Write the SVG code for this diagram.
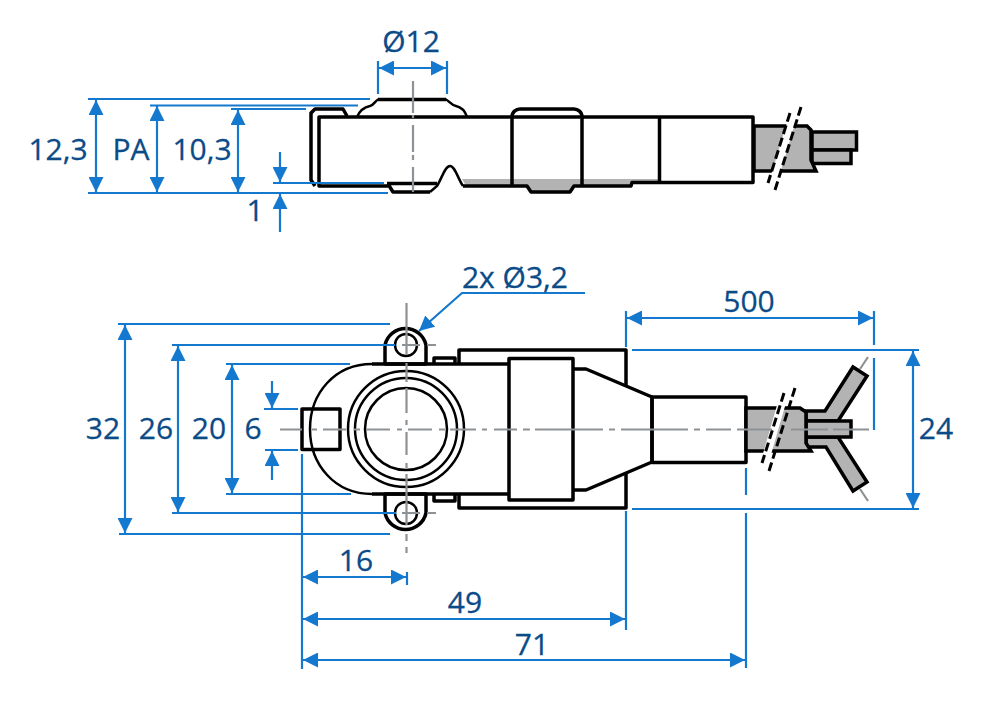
<svg xmlns="http://www.w3.org/2000/svg" width="1000" height="714" viewBox="0 0 1000 714">
<style>
.o{fill:none;stroke:#000;stroke-width:3.500;stroke-linejoin:round}
.f{fill:#fff;stroke:#000;stroke-width:3.500;stroke-linejoin:round}
.g{fill:#b3b3b3;stroke:#000;stroke-width:3.500;stroke-linejoin:miter}
.t{fill:#b3b3b3;stroke:none}
.th{fill:none;stroke:#000;stroke-width:2.500}
.c{fill:none;stroke:#8d9296;stroke-width:2.200}
.d{fill:none;stroke:#1478cf;stroke-width:2.200}
.a{marker-start:url(#ah);marker-end:url(#ah)}
.e{marker-end:url(#ah)}
text{font-family:"Open Sans","Noto Sans",sans-serif;font-size:30px;fill:#0a4b88;stroke:#0a4b88;stroke-width:0.300;text-anchor:middle}
</style>
<defs>
<marker id="ah" markerUnits="userSpaceOnUse" markerWidth="15" markerHeight="15" refX="14" refY="7" orient="auto-start-reverse" viewBox="0 0 14 14">
<path d="M0,0L14,7L0,14Z" fill="#1478cf"/>
</marker>
</defs>

<g id="side-view">
<path class="t" d="M462,179H660V183H632V186H574L570,192H531L527,186H466Z"/>
<path class="o" d="M347,116L343,109H315L311,113V180L315,186"/>
<path class="th" d="M357,117C360,110 365,107 370,106C374,105 375,101 378,99.500H446C449,101 451,105 456,106C461,107 465,111 467,117"/>
<path class="o" d="M378,99.500H446"/>
<path class="o" d="M388,186H319V117H753V182.500H632L631,186H574L570,192H531L527,186H463"/>
<path class="th" d="M463,186C458,179 455,166 450,166C445,166 442,178 437,186L430,192"/>
<path class="o" d="M387,183.500H437M430,192H393L388,184"/>
<path class="o" d="M512,186V117C512,112 516,109 520,109H574C578,109 582,112 582,117V186"/>
<path class="o" d="M659.500,117V182"/>
<path class="g" d="M812,132H856.500V150H812Z"/>
<path class="g" d="M812,150H851V163.500H812Z"/>
<path class="g" d="M754,126H807L811,130V160L816,171H754Z"/>
<path d="M795,110L772,186" stroke="#fff" stroke-width="8" fill="none"/>
<path d="M790,113L768,183M801,107L775,190" stroke="#000" stroke-width="3" stroke-dasharray="9 4" fill="none"/>
<path class="c" d="M413,81V113M413,115V118M413,125V152M413,155V160M413,167V192"/>
</g>

<g id="front-view">
<path class="o" d="M459,364V350H626V385M626,473V508H459V494"/>
<path class="f" d="M385,364V345A21,21 0 0 1 426,345V364Z"/>
<path class="f" d="M385,494V513A21,21 0 0 0 426,513V494Z"/>
<circle class="th" cx="406" cy="345" r="11"/>
<circle class="th" cx="406" cy="513" r="11"/>
<path class="o" d="M434,364V358H455V364M434,494V501H455V494"/>
<path class="th" d="M372,364C335,364 310,393 310,429C310,465 335,494 372,494"/>
<path class="o" d="M372,364H509M372,494H509"/>
<circle class="th" cx="406" cy="429" r="58" stroke-width="3"/>
<circle class="th" cx="406" cy="429" r="51"/>
<circle class="th" cx="406" cy="429" r="41"/>
<rect class="o" x="302" y="409" width="38" height="40.500"/>
<rect class="f" x="509" y="358.500" width="64" height="141.500"/>
<path class="o" d="M573,369H586L652,397V462L586,490H573"/>
<rect class="o" x="652" y="397" width="94" height="65.500"/>
<path class="g" d="M806,411H825L853,367L867,376L838,421H806ZM806,447H826L853,491L867,482L838,437H806Z"/>
<path class="g" d="M806,421H851V437H806Z"/>
<path class="g" d="M746,408H800L806,412V443L811,451H746Z"/>
<path d="M785,392L763,468" stroke="#fff" stroke-width="8" fill="none"/>
<path d="M784,393L762,463M795,388L769,471" stroke="#000" stroke-width="3" stroke-dasharray="9 4" fill="none"/>
<path class="c" d="M280,429.500H302M312,429.500H317M323,429.500H346M354,429.500H360M366,429.500H390M397,429.500H402M408,429.500H432M439,429.500H445M450,429.500H476M482,429.500H487M494,429.500H517M523,429.500H530M535,429.500H603M609,429.500H615M621,429.500H688M694,429.500H700M706,429.500H731M737,429.500H772M791,429.500H828M833,429.500H869"/>
<path class="c" d="M406.500,303V355M406.500,363V382M406.500,388V413M406.500,420V425M406.500,432V455M406.500,463V468M406.500,474V525M406.500,534V541M406.500,547V553"/>
<path class="c" d="M402,345H420M427,345H436M402,513H420M427,513H436"/>
<path class="c" d="M860,369L868,357M860,489L868,501"/>
</g>

<g id="connectors">
<path class="d" d="M88,99H370M150,105.500H358M231,109H306M88,193H388M273,183H384"/>
<path class="d a" d="M96,100V192"/>
<path class="d a" d="M157,106V192"/>
<path class="d a" d="M238,110V192"/>
<path class="d e" d="M280,152V182"/>
<path class="d e" d="M280,232V194"/>
<path class="d" d="M378,61V94M447,61V94"/>
<path class="d a" d="M379,68H446"/>

<path class="d" d="M118,324H390M172,345H395M226,364H350M264,409H298M172,513H396M226,494H351M265,450H298M119,534H390"/>
<path class="d a" d="M125,325V533"/>
<path class="d a" d="M178,346V512"/>
<path class="d a" d="M232,365V493"/>
<path class="d e" d="M272,381V408"/>
<path class="d e" d="M272,480V451"/>
<path class="d" d="M302,454V669M407,572V585M626,511V630M746,468V495M746,513V668M626,311V347M874,311V345M874,358V430M632,350H919M632,509H919"/>
<path class="d a" d="M303,577H406"/>
<path class="d a" d="M303,619H625"/>
<path class="d a" d="M303,660H745"/>
<path class="d a" d="M627,318H873"/>
<path class="d a" d="M913,351V508"/>
<path class="d e" d="M585,293H462L419,331"/>
</g>

<g id="labels">
<text x="411" y="52">Ø12</text>
<text x="58" y="160">12,3</text>
<text x="131" y="160">PA</text>
<text x="202" y="160">10,3</text>
<text x="255" y="221">1</text>
<text x="515" y="288">2x Ø3,2</text>
<text x="749" y="312">500</text>
<text x="103" y="439">32</text>
<text x="156" y="439">26</text>
<text x="209" y="439">20</text>
<text x="253" y="439">6</text>
<text x="936" y="439">24</text>
<text x="356" y="571">16</text>
<text x="465" y="613">49</text>
<text x="532" y="655">71</text>
</g>
</svg>
